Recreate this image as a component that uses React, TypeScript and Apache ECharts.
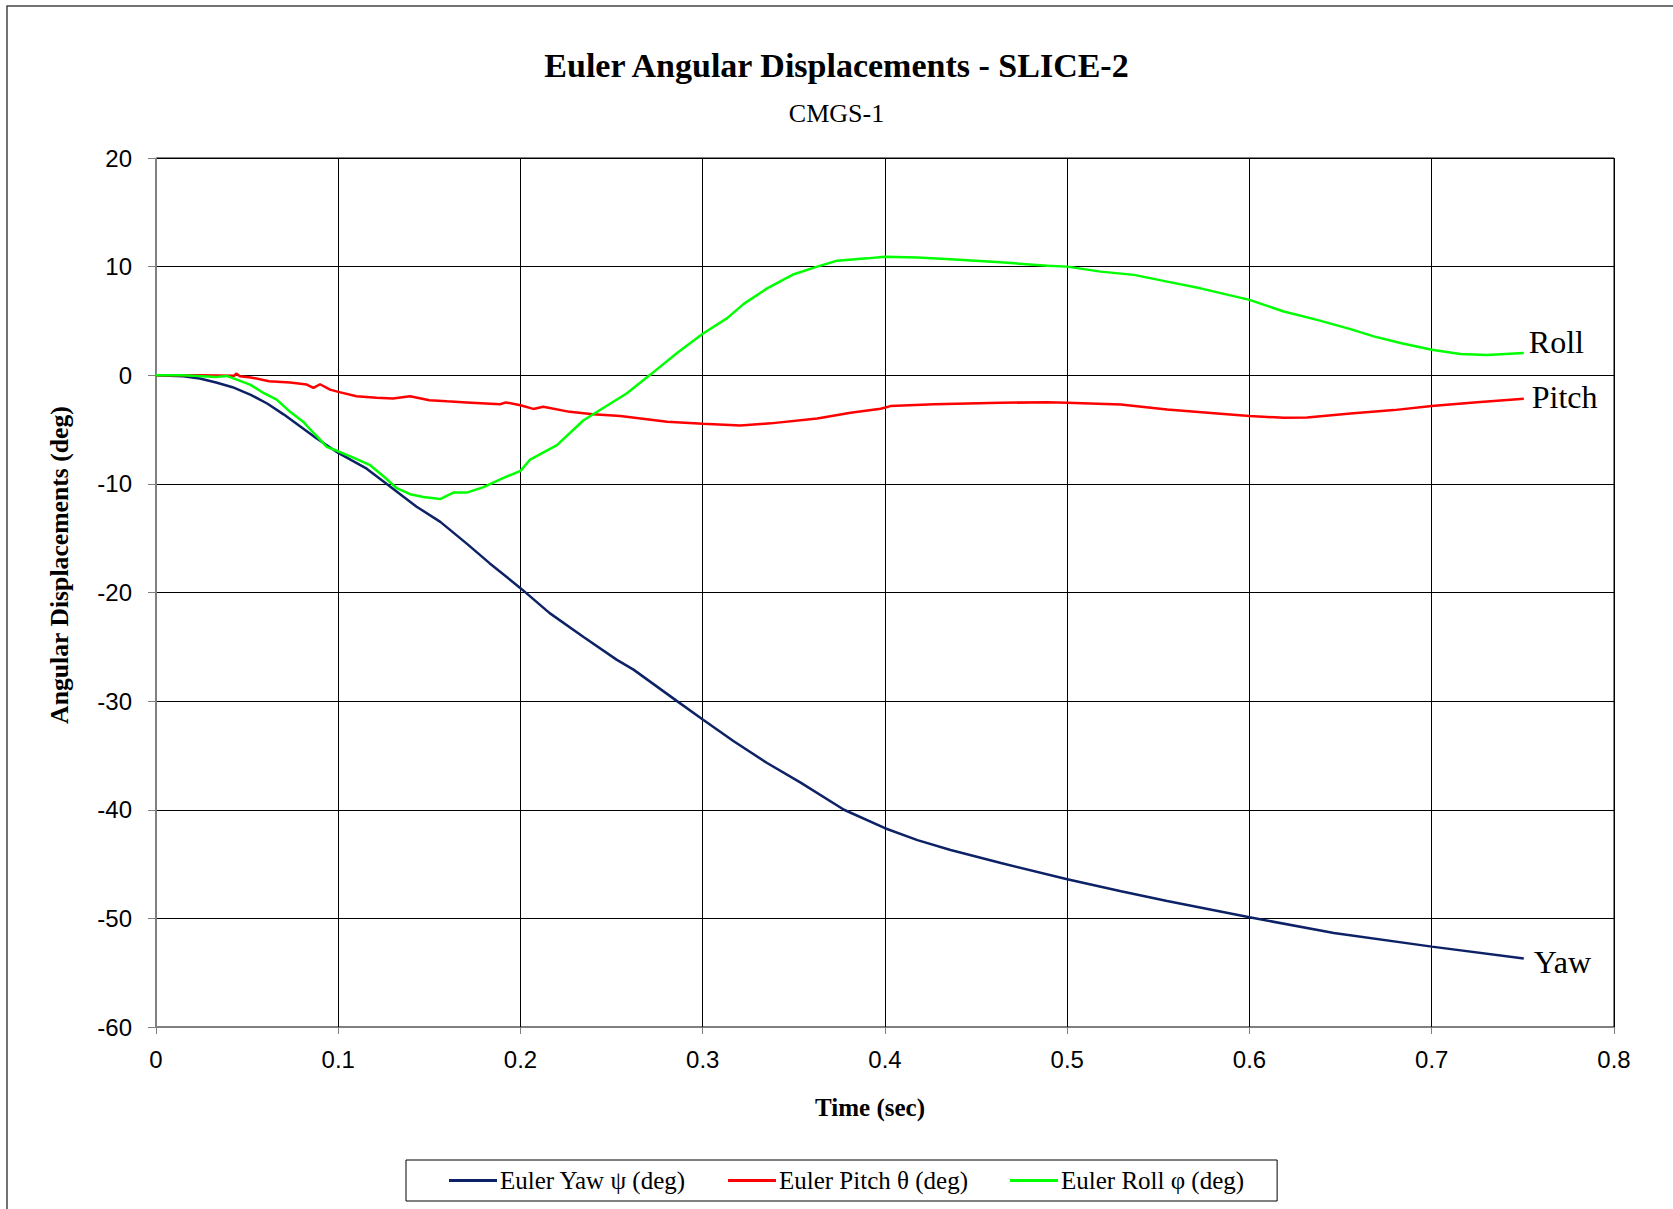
import React, { useEffect, useRef } from "react";
import * as echarts from "echarts";

const xTicks = [0, 0.1, 0.2, 0.3, 0.4, 0.5, 0.6, 0.7, 0.8];

const yawTime = [0, 0.015, 0.024, 0.033, 0.042, 0.052, 0.061, 0.07, 0.079, 0.088, 0.1, 0.1156, 0.125, 0.143, 0.156, 0.1705, 0.183, 0.2, 0.216, 0.2346, 0.2529, 0.262, 0.2859, 0.3, 0.317, 0.3353, 0.3537, 0.3775, 0.4, 0.4178, 0.436, 0.4636, 0.5, 0.5295, 0.5548, 0.6, 0.6463, 0.7, 0.7505];
const yawDeg = [0, -0.1, -0.3, -0.67, -1.1, -1.8, -2.6, -3.6, -4.7, -5.8, -7.15, -8.6, -9.8, -12.1, -13.5, -15.5, -17.3, -19.6, -21.9, -24.1, -26.2, -27.1, -30.0, -31.7, -33.7, -35.7, -37.5, -40.0, -41.7, -42.8, -43.7, -44.9, -46.4, -47.5, -48.4, -49.9, -51.35, -52.6, -53.7];

const pitchTime = [0, 0.024, 0.043, 0.044, 0.046, 0.052, 0.062, 0.0736, 0.0827, 0.0864, 0.09, 0.0955, 0.1, 0.11, 0.121, 0.13, 0.1394, 0.15, 0.1596, 0.1705, 0.1888, 0.192, 0.2, 0.207, 0.2125, 0.227, 0.2397, 0.2548, 0.2804, 0.3, 0.3207, 0.3372, 0.3628, 0.3811, 0.3976, 0.403, 0.4269, 0.4634, 0.489, 0.5, 0.5293, 0.5548, 0.5823, 0.6, 0.6188, 0.6316, 0.6554, 0.6792, 0.7, 0.7249, 0.7505];
const pitchDeg = [0, 0, -0.05, 0.15, -0.1, -0.2, -0.55, -0.67, -0.86, -1.17, -0.83, -1.32, -1.53, -1.93, -2.08, -2.15, -1.93, -2.3, -2.4, -2.5, -2.67, -2.5, -2.76, -3.1, -2.9, -3.37, -3.6, -3.76, -4.28, -4.46, -4.62, -4.43, -3.98, -3.46, -3.09, -2.84, -2.66, -2.54, -2.48, -2.54, -2.7, -3.15, -3.52, -3.76, -3.91, -3.88, -3.52, -3.21, -2.84, -2.48, -2.17];

const rollTime = [0, 0.015, 0.0333, 0.0388, 0.0443, 0.0516, 0.059, 0.0662, 0.0736, 0.0809, 0.0845, 0.0882, 0.0937, 0.1, 0.1083, 0.1175, 0.1248, 0.1321, 0.1394, 0.1467, 0.1559, 0.1632, 0.1705, 0.1797, 0.1907, 0.2, 0.2053, 0.22, 0.2346, 0.2584, 0.2713, 0.2859, 0.3, 0.3134, 0.3225, 0.3353, 0.35, 0.3628, 0.3738, 0.3903, 0.4, 0.4178, 0.436, 0.4634, 0.489, 0.5, 0.5183, 0.5366, 0.5548, 0.5731, 0.6, 0.6188, 0.6371, 0.6554, 0.6682, 0.6828, 0.7, 0.7157, 0.7304, 0.7505];
const rollDeg = [0, 0, -0.15, -0.06, -0.4, -0.86, -1.63, -2.24, -3.37, -4.3, -4.97, -5.6, -6.6, -7.0, -7.58, -8.28, -9.3, -10.4, -10.95, -11.2, -11.4, -10.8, -10.8, -10.3, -9.45, -8.8, -7.76, -6.44, -4.14, -1.66, 0.06, 2.05, 3.82, 5.26, 6.57, 8.0, 9.3, 10.0, 10.55, 10.76, 10.92, 10.83, 10.67, 10.4, 10.09, 10.0, 9.54, 9.24, 8.62, 8.0, 6.94, 5.87, 5.1, 4.25, 3.58, 2.97, 2.35, 1.96, 1.87, 2.05];

const zip = (t: number[], v: number[]) => t.map((x, i) => [x, v[i]]);

const SERIF = "Liberation Serif, Times New Roman, serif";
const SANS = "Liberation Sans, Arial, sans-serif";

export default function App() {
  const ref = useRef<HTMLDivElement>(null);
  useEffect(() => {
    if (!ref.current) return;
    const chart = echarts.init(ref.current, undefined, { renderer: "svg" });
    const endLabel = (text: string, offset: number[]) => ({
      show: true,
      formatter: text,
      fontFamily: SERIF,
      fontSize: 32,
      color: "#000",
      offset,
    });
    chart.setOption({
      animation: false,
      backgroundColor: "#fff",
      title: {
        text: "Euler Angular Displacements - SLICE-2",
        subtext: "CMGS-1",
        left: "center",
        top: 43,
        itemGap: 18,
        textStyle: { fontFamily: SERIF, fontSize: 34, fontWeight: "bold", color: "#000" },
        subtextStyle: { fontFamily: SERIF, fontSize: 26, color: "#000" },
      },
      legend: {
        left: 406,
        top: 1160,
        orient: "horizontal",
        itemWidth: 48,
        itemHeight: 3,
        itemGap: 42,
        icon: "rect",
        padding: [8, 33, 8, 43],
        borderColor: "#000",
        borderWidth: 1,
        textStyle: { fontFamily: SERIF, fontSize: 25, color: "#000", padding: [0, 0, 0, -2] },
        data: ["Euler Yaw ψ (deg)", "Euler Pitch θ (deg)", "Euler Roll φ (deg)"],
      },
      grid: {
        left: 156,
        top: 158,
        width: 1458,
        height: 869,
        show: true,
        borderColor: "#000",
        borderWidth: 1,
        containLabel: false,
      },
      xAxis: {
        type: "value",
        min: xTicks[0],
        max: xTicks[xTicks.length - 1],
        interval: 0.1,
        axisLine: { show: true, onZero: false, lineStyle: { color: "#808080", width: 1 } },
        axisTick: { show: true, inside: false, length: 7, lineStyle: { color: "#808080" } },
        axisLabel: { fontFamily: SANS, fontSize: 24, color: "#000", margin: 20 },
        splitLine: { show: true, lineStyle: { color: "#000", width: 1 } },
      },
      yAxis: {
        type: "value",
        min: -60,
        max: 20,
        interval: 10,
        axisLine: { show: true, onZero: false, lineStyle: { color: "#808080", width: 1 } },
        axisTick: { show: true, inside: false, length: 8, lineStyle: { color: "#808080" } },
        axisLabel: { fontFamily: SANS, fontSize: 24, color: "#000", margin: 24 },
        splitLine: { show: true, lineStyle: { color: "#000", width: 1 } },
      },
      graphic: [
        {
          type: "rect",
          shape: { x: 7, y: 6, width: 1720, height: 1260 },
          style: { fill: "none", stroke: "#444", lineWidth: 1.5 },
          silent: true,
          z: -1,
        },
        {
          type: "text",
          x: 870,
          y: 1107,
          style: {
            text: "Time (sec)",
            fontFamily: SERIF,
            fontSize: 25,
            fontWeight: "bold",
            fill: "#000",
            textAlign: "center",
            textVerticalAlign: "middle",
          },
        },
        {
          type: "text",
          x: 59,
          y: 565,
          rotation: Math.PI / 2,
          style: {
            text: "Angular Displacements (deg)",
            fontFamily: SERIF,
            fontSize: 25.7,
            fontWeight: "bold",
            fill: "#000",
            textAlign: "center",
            textVerticalAlign: "middle",
          },
        },
      ],
      series: [
        {
          name: "Euler Yaw ψ (deg)",
          type: "line",
          data: zip(yawTime, yawDeg),
          showSymbol: false,
          symbol: "none",
          color: "#0d2266",
          lineStyle: { width: 2.5, color: "#0d2266" },
          endLabel: endLabel("Yaw", [2, 3]),
          z: 3,
        },
        {
          name: "Euler Pitch θ (deg)",
          type: "line",
          data: zip(pitchTime, pitchDeg),
          showSymbol: false,
          symbol: "none",
          color: "#ff0000",
          lineStyle: { width: 2.5, color: "#ff0000" },
          endLabel: endLabel("Pitch", [0, -2]),
          z: 4,
        },
        {
          name: "Euler Roll φ (deg)",
          type: "line",
          data: zip(rollTime, rollDeg),
          showSymbol: false,
          symbol: "none",
          color: "#00ff00",
          lineStyle: { width: 2.5, color: "#00ff00" },
          endLabel: endLabel("Roll", [-3, -11]),
          z: 5,
        },
      ],
    });
    return () => chart.dispose();
  }, []);
  return (
    <div
      ref={ref}
      style={{ position: "fixed", left: 0, top: 0, width: 1673, height: 1209, overflow: "hidden" }}
    />
  );
}
